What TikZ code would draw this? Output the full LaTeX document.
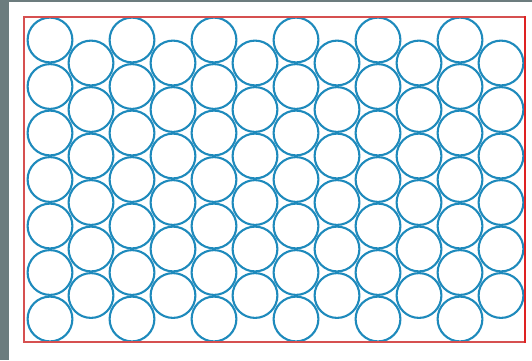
\documentclass[tikz,border=0pt]{standalone}
\definecolor{bggray}{RGB}{108,124,126}
\definecolor{circblue}{RGB}{30,138,188}
\definecolor{framered}{RGB}{214,80,80}
\definecolor{edgered}{RGB}{222,34,34}
\begin{document}
\begin{tikzpicture}[x=1pt,y=-1pt,
  ball/.style={draw=circblue, line width=2.1pt},
  frame/.style={draw=framered, line width=1.2pt}]
\useasboundingbox (0,0) rectangle (532,360);
\fill[bggray] (0,0) rectangle (532,360);
\fill[white] (8.5,2) rectangle (532,360);
\begin{scope}
\clip (24,17) rectangle (525,342);
\foreach \k in {0,2,...,10} {
  \foreach \r in {0,...,6} {
    \draw[ball] ({50+41*\k},{40+46.5*\r}) circle[radius=22.4];
  }
}
\foreach \k in {1,3,...,11} {
  \foreach \r in {0,...,5} {
    \draw[ball] ({50+41*\k},{63+46.5*\r}) circle[radius=22.4];
  }
}
\end{scope}
\draw[frame] (525,17) -- (24,17) -- (24,342) -- (525,342);
\draw[draw=edgered, line width=1.8pt] (525,16.4) -- (525,342.6);
\end{tikzpicture}
\end{document}
